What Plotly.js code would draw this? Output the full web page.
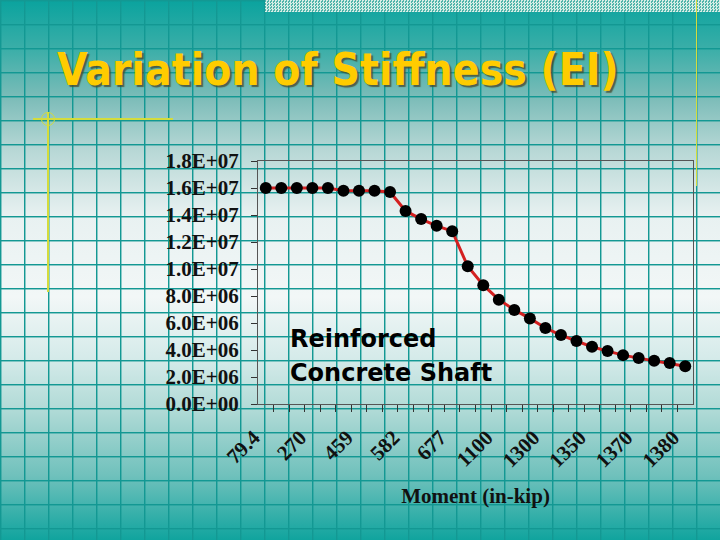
<!DOCTYPE html>
<html>
<head>
<meta charset="utf-8">
<script src="https://cdn.plot.ly/plotly-3.0.1.min.js"></script>
<style>
  html, body { margin: 0; padding: 0; }
  body {
    width: 720px; height: 540px; overflow: hidden; position: relative;
    background-color: #e8f2f2;
    background-image:
      repeating-linear-gradient(to right, #139893 0px, #139893 1px, rgba(19,152,147,0.45) 1px, rgba(19,152,147,0.45) 2px, transparent 2px, transparent 24px),
      repeating-linear-gradient(to bottom, #139893 0px, #139893 1px, rgba(19,152,147,0.45) 1px, rgba(19,152,147,0.45) 2px, transparent 2px, transparent 24px),
      linear-gradient(to bottom, #0aa39e 0%, #3aaea8 9%, #7bbcb8 18%, #b8d8d6 28%, #e8f1f1 40%, #f2f7f7 55%, #d6ebea 66%, #b0dad6 76%, #70c1bc 88%, #10a49e 100%);
  }
  #plot { position: absolute; left: 0; top: 0; width: 720px; height: 540px; }
  .checker {
    position: absolute; left: 265px; top: 0; width: 455px; height: 12px;
    background-color: #4fb3aa;
    background-image: conic-gradient(#d6ede6 25%, transparent 0 50%, #d6ede6 0 75%, transparent 0);
    background-size: 3px 3px;
  }
  .yline { position: absolute; left: 696px; top: 0; width: 1px; height: 186px; background: #d4dc3c; }
  .hline { position: absolute; left: 33px; top: 118px; width: 140px; height: 2px; background: #d4dc3c; }
  .vline { position: absolute; left: 47px; top: 112px; width: 2px; height: 180px; background: #d4dc3c; }
  .ring { position: absolute; left: 41px; top: 112px; width: 12px; height: 12px; border: 1.5px solid #d4dc3c; border-radius: 50%; }
</style>
</head>
<body>
<div class="checker"></div>
<div class="yline"></div>
<div class="hline"></div>
<div class="vline"></div>
<div class="ring"></div>
<div id="plot"></div>
<script>
// stiffness EI, one value per moment step
const stiffness = [
    1.60e7, 1.60e7, 1.60e7, 1.60e7, 1.60e7, 1.58e7, 1.58e7, 1.58e7, 1.57e7,
    1.43e7, 1.37e7, 1.32e7, 1.28e7,
    1.02e7, 8.80e6, 7.73e6, 6.97e6, 6.34e6, 5.63e6, 5.11e6, 4.66e6,
    4.24e6, 3.92e6, 3.62e6, 3.40e6, 3.20e6, 3.03e6, 2.80e6
];

// moment labels that are shown on the category axis (every third step)
const momentTickIdx = [0, 3, 6, 9, 12, 15, 18, 21, 24, 27];
const momentTickText = ["79.4", "270", "459", "582", "677", "1100", "1300", "1350", "1370", "1380"];

const yTickVals = [0, 2e6, 4e6, 6e6, 8e6, 1e7, 1.2e7, 1.4e7, 1.6e7, 1.8e7];
const yTickText = ["0.0E+00", "2.0E+06", "4.0E+06", "6.0E+06", "8.0E+06",
                   "1.0E+07", "1.2E+07", "1.4E+07", "1.6E+07", "1.8E+07"];

const steps = stiffness.map((v, i) => i);
const boundaries = steps.slice(1).map(i => i - 0.5);

const axisFont = { family: "Liberation Serif, Times New Roman, serif", size: 21, color: "#111", weight: "bold" };
const noteFont = { family: "DejaVu Sans, Verdana, sans-serif", size: 24, color: "#000", weight: "bold" };

let trace = {
    x: steps,
    y: stiffness,
    type: "scatter",
    mode: "lines+markers",
    line: { color: "#d42020", width: 3 },
    marker: { color: "#000", size: 12 },
    hoverinfo: "skip"
};

let layout = {
    width: 720,
    height: 540,
    margin: { l: 258, r: 27, t: 161, b: 136 },
    paper_bgcolor: "rgba(0,0,0,0)",
    plot_bgcolor: "rgba(0,0,0,0)",
    showlegend: false,
    title: {
        text: "Variation of Stiffness (EI)",
        xref: "container", yref: "container",
        x: 57 / 720, xanchor: "left",
        y: 1 - 70 / 540, yanchor: "middle",
        font: {
            family: "DejaVu Sans Condensed, DejaVu Sans, sans-serif",
            size: 44, color: "#ffcc00", weight: "bold",
            shadow: "2px 2px 1px rgba(70,70,40,0.75)"
        }
    },
    xaxis: {
        range: [-0.5, steps.length - 0.5],
        showgrid: false, zeroline: false,
        showline: true, linecolor: "#555", linewidth: 1, mirror: true,
        tickmode: "array", tickvals: momentTickIdx, ticktext: momentTickText,
        ticks: "", tickangle: -45, tickfont: axisFont,
        ticklabelstandoff: 12, ticklabelshift: -12,
        minor: { tickmode: "array", tickvals: boundaries, ticks: "outside", ticklen: 7, tickcolor: "#333", tickwidth: 1 },
        title: { text: "Moment (in-kip)", font: axisFont, standoff: 16 }
    },
    yaxis: {
        range: [0, 1.8e7],
        showgrid: false, zeroline: false,
        showline: true, linecolor: "#555", linewidth: 1, mirror: true,
        tickmode: "array", tickvals: yTickVals, ticktext: yTickText,
        ticks: "outside", ticklen: 6, tickcolor: "#333",
        tickfont: axisFont, ticklabelstandoff: 8
    },
    annotations: [
        {
            text: "Reinforced",
            xref: "paper", yref: "paper",
            x: 30 / 435, y: 1 - (339 - 161) / 243,
            xanchor: "left", yanchor: "middle",
            showarrow: false, font: noteFont
        },
        {
            text: "Concrete Shaft",
            xref: "paper", yref: "paper",
            x: 30 / 435, y: 1 - (373 - 161) / 243,
            xanchor: "left", yanchor: "middle",
            showarrow: false, font: noteFont
        }
    ]
};

Plotly.newPlot("plot", [trace], layout, { staticPlot: true, displayModeBar: false });
</script>
</body>
</html>
